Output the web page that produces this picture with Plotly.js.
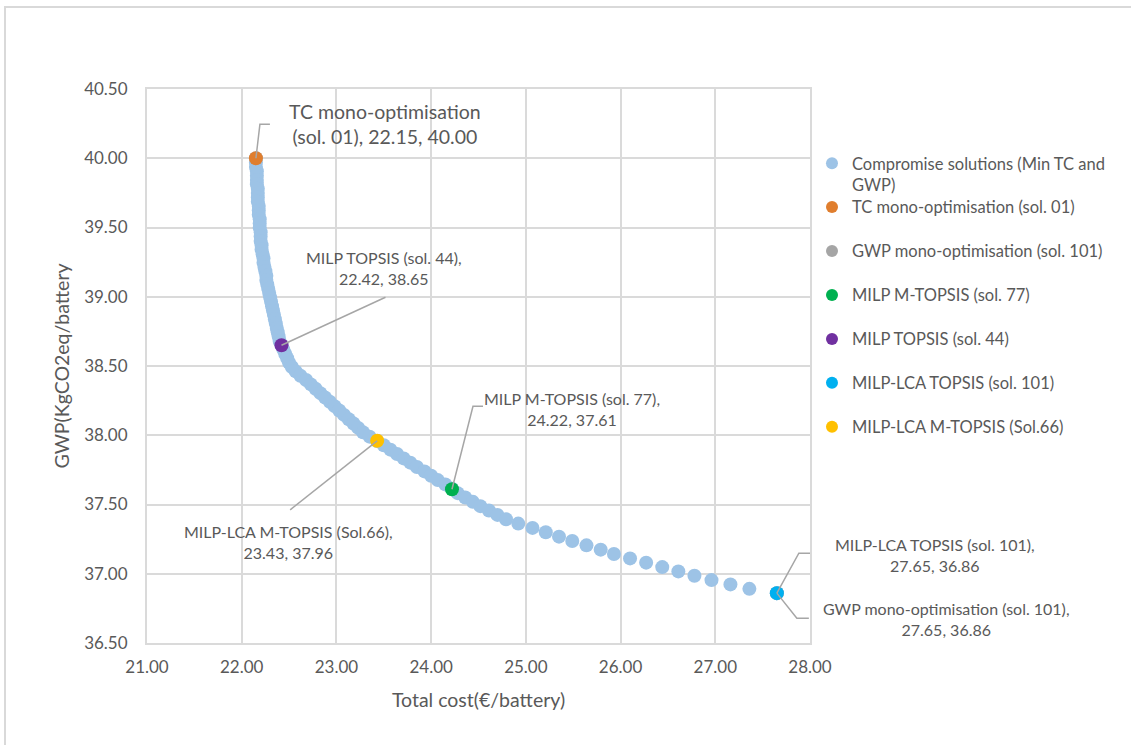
<!DOCTYPE html>
<html>
<head>
<meta charset="utf-8">
<script src="https://cdn.plot.ly/plotly-3.0.1.min.js"></script>
<style>
  html, body { margin: 0; padding: 0; background: #ffffff; }
  #wrap { position: relative; width: 1131px; height: 745px; overflow: hidden; }
  #chart { position: absolute; left: 0; top: 0; width: 1131px; height: 745px; }
  #frame { position: absolute; left: 4px; top: 6px; width: 1127px; height: 739px;
           border-left: 2px solid #d9d9d9; border-top: 2px solid #d9d9d9;
           pointer-events: none; z-index: 10; }
</style>
</head>
<body>
<div id="wrap"><div id="chart"></div><div id="frame"></div></div>
<script>
// ---- Data: compromise solutions 1..101 (Min TC and GWP) ----
const totalCost = [
  22.15, 22.15, 22.15, 22.16, 22.16, 22.16, 22.16, 22.17, 22.17, 22.17,
  22.17, 22.18, 22.18, 22.18, 22.19, 22.19, 22.19, 22.20, 22.20, 22.20,
  22.21, 22.21, 22.22, 22.23, 22.23, 22.24, 22.25, 22.26, 22.26, 22.27,
  22.28, 22.29, 22.30, 22.31, 22.32, 22.33, 22.34, 22.35, 22.36, 22.37,
  22.38, 22.39, 22.40, 22.42, 22.44, 22.46, 22.48, 22.50, 22.53, 22.57,
  22.62, 22.68, 22.73, 22.78, 22.83, 22.88, 22.93, 22.98, 23.03, 23.08,
  23.13, 23.18, 23.23, 23.28, 23.35, 23.43, 23.50, 23.57, 23.64, 23.71,
  23.78, 23.85, 23.93, 24.00, 24.07, 24.15, 24.22, 24.28, 24.36, 24.44,
  24.52, 24.61, 24.70, 24.79, 24.92, 25.07, 25.21, 25.35, 25.49, 25.64,
  25.79, 25.93, 26.10, 26.27, 26.44, 26.61, 26.78, 26.96, 27.16, 27.36,
  27.65
];
const gwp = [
  40.000, 39.969, 39.937, 39.906, 39.874, 39.843, 39.812, 39.780, 39.749, 39.717,
  39.686, 39.655, 39.623, 39.592, 39.560, 39.529, 39.498, 39.466, 39.435, 39.403,
  39.372, 39.341, 39.309, 39.278, 39.246, 39.215, 39.184, 39.152, 39.121, 39.089,
  39.058, 39.027, 38.995, 38.964, 38.932, 38.901, 38.870, 38.838, 38.807, 38.775,
  38.744, 38.713, 38.681, 38.650, 38.618, 38.587, 38.556, 38.524, 38.493, 38.461,
  38.430, 38.399, 38.367, 38.336, 38.304, 38.273, 38.242, 38.210, 38.179, 38.147,
  38.116, 38.085, 38.053, 38.022, 37.990, 37.959, 37.928, 37.896, 37.865, 37.833,
  37.802, 37.771, 37.739, 37.708, 37.676, 37.645, 37.614, 37.582, 37.551, 37.519,
  37.488, 37.457, 37.425, 37.394, 37.362, 37.331, 37.300, 37.268, 37.237, 37.205,
  37.174, 37.143, 37.111, 37.080, 37.048, 37.017, 36.986, 36.954, 36.923, 36.891,
  36.860
];

// ---- Highlighted solutions ----
const highlightNames = [
  'TC mono-optimisation (sol. 01)',
  'GWP mono-optimisation (sol. 101)',
  'MILP M-TOPSIS (sol. 77)',
  'MILP TOPSIS (sol. 44)',
  'MILP-LCA TOPSIS (sol. 101)',
  'MILP-LCA M-TOPSIS (Sol.66)'
];
const highlightCost = [22.15, 27.65, 24.22, 22.42, 27.65, 23.43];
const highlightGwp  = [40.00, 36.86, 37.61, 38.65, 36.86, 37.96];
const labelHeads = [
  'TC mono-optimisation<br>(sol. 01)',
  'GWP mono-optimisation (sol. 101)',
  'MILP M-TOPSIS (sol. 77)',
  'MILP TOPSIS (sol. 44)',
  'MILP-LCA TOPSIS (sol. 101)',
  'MILP-LCA M-TOPSIS (Sol.66)'
];
const xTickVals = [21, 22, 23, 24, 25, 26, 27, 28];
const yTickVals = [36.5, 37, 37.5, 38, 38.5, 39, 39.5, 40, 40.5];

// ---- Styles ----
const compromiseColor = '#9DC3E6';
const highlightColors = ['#E07E2E', '#A5A5A5', '#00B050', '#7030A0', '#00B0F0', '#FFC000'];
const labelSep = [', ', ',<br>', ',<br>', ',<br>', ',<br>', ',<br>'];
const labelSize = [19.5, 16, 16, 16, 16, 16];
// text offsets (px, y up) and leader-line paths (px, y up) relative to each point
const labelShift = [[129, 34], [170, -26], [120, 80], [103, 77], [158, 38], [-89, -101]];
const leaderPaths = [
  'M0,0L4,34L14,34',
  'M0,0L20,-25L32,-25',
  'M0,0L21,83L31,83',
  'M0,0L104,48',
  'M0,0L22,40L34,40',
  'M0,0L-87,-69'
];
const textColor = '#595959';
const gridColor = '#DADADA';
const fontFamily = 'Lato, "Open Sans", sans-serif';

const traces = [{
  type: 'scatter', mode: 'markers',
  x: totalCost, y: gwp,
  name: 'Compromise solutions (Min TC and<br>GWP)',
  marker: { color: compromiseColor, size: 14 },
  legend: 'legend',
  hoverinfo: 'x+y'
}];
highlightNames.forEach((n, i) => {
  traces.push({
    type: 'scatter', mode: 'markers',
    x: [highlightCost[i]], y: [highlightGwp[i]],
    name: n,
    marker: { color: highlightColors[i], size: 14 },
    legend: 'legend2',
    legendgroup: 'g' + i,
    hoverinfo: 'x+y'
  });
});

const annotations = highlightNames.map((n, i) => ({
  xref: 'x', yref: 'y',
  x: highlightCost[i], y: highlightGwp[i],
  xshift: labelShift[i][0], yshift: labelShift[i][1],
  xanchor: 'center', yanchor: 'middle', align: 'center',
  showarrow: false,
  text: labelHeads[i] + labelSep[i] + highlightCost[i].toFixed(2) + ', ' + highlightGwp[i].toFixed(2),
  font: { family: fontFamily, size: labelSize[i], color: textColor }
}));

const shapes = highlightNames.map((n, i) => ({
  type: 'path', xref: 'x', yref: 'y',
  xsizemode: 'pixel', ysizemode: 'pixel',
  xanchor: highlightCost[i], yanchor: highlightGwp[i],
  path: leaderPaths[i],
  line: { color: '#A6A6A6', width: 1.5 },
  layer: 'above'
}));

const layout = {
  width: 1131, height: 745,
  paper_bgcolor: '#ffffff', plot_bgcolor: '#ffffff',
  margin: { l: 147, r: 321, t: 89, b: 102, pad: 0 },
  font: { family: fontFamily, color: textColor },
  showlegend: true,
  xaxis: {
    range: [21, 28], tickvals: xTickVals, tickformat: '.2f',
    showgrid: true, gridcolor: gridColor, gridwidth: 2,
    showline: true, linecolor: gridColor, linewidth: 2, mirror: true,
    zeroline: false, ticks: '', ticklabelstandoff: 8,
    tickfont: { size: 17, color: textColor },
    title: { text: 'Total cost(€/battery)', font: { size: 19.5, color: textColor }, standoff: 17 },
    fixedrange: true
  },
  yaxis: {
    range: [36.5, 40.5], tickvals: yTickVals, tickformat: '.2f',
    showgrid: true, gridcolor: gridColor, gridwidth: 2,
    showline: true, linecolor: gridColor, linewidth: 2, mirror: true,
    zeroline: false, ticks: '', ticklabelstandoff: 14,
    tickfont: { size: 17, color: textColor },
    title: { text: 'GWP(KgCO2eq/battery', font: { size: 19.5, color: textColor }, standoff: 9 },
    fixedrange: true
  },
  legend: {
    x: 1.003, xanchor: 'left', y: 0.897, yanchor: 'top',
    font: { size: 16.5, color: textColor }, bgcolor: 'rgba(0,0,0,0)',
    itemsizing: 'constant', valign: 'top'
  },
  legend2: {
    x: 1.003, xanchor: 'left', y: 0.818, yanchor: 'top',
    font: { size: 16.5, color: textColor }, bgcolor: 'rgba(0,0,0,0)',
    itemsizing: 'constant', traceorder: 'grouped', tracegroupgap: 19.5, valign: 'middle'
  },
  annotations: annotations,
  shapes: shapes
};

Plotly.newPlot('chart', traces, layout, { displayModeBar: false, staticPlot: true });
</script>
</body>
</html>
